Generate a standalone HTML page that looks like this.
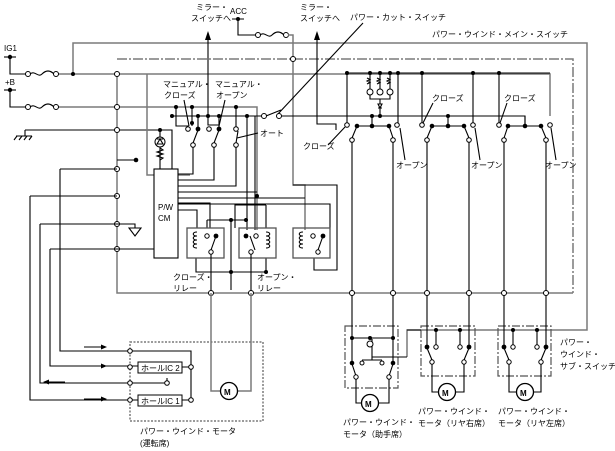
<!DOCTYPE html>
<html><head><meta charset="utf-8"><style>
html,body{margin:0;padding:0;background:#fff;width:615px;height:451px;overflow:hidden}
svg{display:block}
text{font-family:"Liberation Sans","Noto Sans CJK JP",sans-serif;font-size:8px;fill:#000}
.g{stroke:#7a7a7a;stroke-width:1.5;fill:none}
.k{stroke:#000;stroke-width:1.1;fill:none}
.o{fill:#fff;stroke:#000;stroke-width:1}
.d{fill:#000}
.dd{stroke:#7a7a7a;stroke-width:1.5;fill:none;stroke-dasharray:10 2 2 2}
.bx{fill:none;stroke:#7a7a7a;stroke-width:1.5;stroke-dasharray:2 1.5}
.bd{fill:none;stroke:#555;stroke-width:1.2;stroke-dasharray:8 2 2 2}
</style></head><body>
<svg width="615" height="451" viewBox="0 0 615 451" xmlns="http://www.w3.org/2000/svg">
<path class="g" d="M73 74V43H587V330H407V357"/>
<path class="g" d="M56 74H550V116"/>
<path class="dd" d="M117 59H573V293"/>
<path class="g" d="M117 74V293H573"/>
<path class="g" d="M56 107H257V230"/>
<path class="k" d="M10 57V74H28"/>
<path class="k" d="M10 90V107H28"/>
<circle class="o" cx="28" cy="74" r="2.5"/><path class="k" d="M30 74c5 -4 8 4 12 0s8 -4 12 0"/><circle class="o" cx="56" cy="74" r="2.5"/>
<circle class="o" cx="28" cy="107" r="2.5"/><path class="k" d="M30 107c5 -4 8 4 12 0s8 -4 12 0"/><circle class="o" cx="56" cy="107" r="2.5"/>
<circle class="d" cx="10" cy="57" r="2.2"/><path class="k" d="M4 57H16"/>
<circle class="d" cx="10" cy="90" r="2.2"/><path class="k" d="M4 90H16"/>
<text x="4" y="51">IG1</text><text x="5" y="85">+B</text>
<circle class="d" cx="73" cy="74" r="2"/>
<path class="k" d="M25 130H172V169"/><path class="k" d="M16 136H32M17 136l-3 4M22 136l-3 4M27 136l-3 4M32 136l-3 4"/>
<path class="k" d="M25 130V136"/>
<text x="230" y="14">ACC</text><circle class="d" cx="238" cy="19" r="2"/><path class="k" d="M232 19H244M238 19V35H258"/>
<circle class="o" cx="258" cy="35" r="2.5"/><path class="k" d="M260 35c5 -4 8 4 12 0s8 -4 12 0"/><circle class="o" cx="286" cy="35" r="2.5"/>
<path class="g" d="M288 35H293V185H305V230"/>
<circle class="o" cx="293" cy="59" r="2.5"/>
<path class="k" d="M208 33V116"/><path class="d" d="M205 40L208 31L211 40Z"/>
<text x="196" y="10">ミラー・</text><text x="191" y="21">スイッチへ</text>
<path class="k" d="M317 33V124H336V130"/><path class="d" d="M314 40L317 31L320 40Z"/>
<text x="300" y="10">ミラー・</text><text x="300" y="21">スイッチへ</text>
<text x="350" y="20">パワー・カット・スイッチ</text>
<path class="k" d="M363 23L277 115"/>
<text x="432" y="37">パワー・ウインド・メイン・スイッチ</text>
<path class="k" d="M172 116H264M279 116H525V126"/>
<circle class="o" cx="264" cy="116" r="2.5"/><circle class="o" cx="279" cy="116" r="2.5"/><path class="k" d="M266 116L281 110"/>
<path class="g" d="M147 74V175H190"/>
<path class="k" d="M176 107V126H188V129M192 107V126M208 116V125H219V129M198 116V129M219 116V129M236 107V129M247 116V230M255 116V230"/>
<circle class="d" cx="176" cy="107" r="2"/><circle class="d" cx="192" cy="107" r="2"/><circle class="d" cx="236" cy="107" r="2"/>
<circle class="d" cx="198" cy="116" r="2"/><circle class="d" cx="208" cy="116" r="2"/><circle class="d" cx="219" cy="116" r="2"/><circle class="d" cx="247" cy="116" r="2"/><circle class="d" cx="172" cy="116" r="2"/>
<circle class="d" cx="192" cy="123" r="2"/>
<circle class="o" cx="188" cy="129" r="2.3"/><circle class="d" cx="198" cy="129" r="2.4"/><circle class="o" cx="209" cy="129" r="2.3"/><circle class="d" cx="219" cy="129" r="2.4"/><circle class="o" cx="236" cy="129" r="2.3"/>
<path class="k" d="M193 143L198 130M214 143L219 130M236 143L238 131"/>
<circle class="o" cx="193" cy="145" r="2.3"/><circle class="o" cx="214" cy="145" r="2.3"/><circle class="o" cx="236" cy="145" r="2.3"/>
<path class="k" d="M193 147V174H178M214 147V180H178M236 147V186H178"/>
<text x="163" y="87">マニュアル・</text><text x="164" y="98">クローズ</text>
<text x="215" y="87">マニュアル・</text><text x="216" y="98">オープン</text>
<path class="k" d="M184 100L189 126M225 100L219 126M237 138L258 133"/>
<text x="260" y="136">オート</text>
<path class="k" d="M160 130V160M160 160V169"/><circle class="d" cx="160" cy="130" r="2"/>
<circle class="o" cx="160" cy="142" r="5"/><path class="k" d="M157 144L160 139L163 144ZM157 139H163"/>
<path class="k" d="M160 148l3 2l-6 2l6 2l-6 2l6 2l-3 2"/>
<g class="o"><circle cx="117" cy="74" r="2.5"/><circle cx="117" cy="107" r="2.5"/><circle cx="117" cy="130" r="2.5"/><circle cx="117" cy="169" r="2.5"/><circle cx="117" cy="196" r="2.5"/><circle cx="117" cy="224" r="2.5"/><circle cx="117" cy="249" r="2.5"/></g>
<path class="k" d="M117 160H135"/><circle class="d" cx="136" cy="160" r="2.3"/>
<rect x="154" y="169" width="24" height="89" fill="#fff" stroke="#000" stroke-width="1.1"/>
<text x="158" y="210" font-size="9">P/W</text><text x="158" y="221" font-size="9">CM</text>
<path class="k" d="M60 169H117M30 196H117M40 224H117M50 249H154M178 192H257M178 198H305M178 204H330V230"/>
<path class="k" d="M117 224H135V228M129 228H141L135 236Z"/>
<path class="k" d="M178 210H197V228M178 203H210V228"/>
<path class="k" d="M207 220V228M207 220H246M231 220V290M266 205H235V228M266 205V228"/>
<circle class="d" cx="231" cy="220" r="2"/><circle class="d" cx="246" cy="220" r="2"/><circle class="d" cx="257" cy="196" r="2"/>
<path class="k" d="M196 258V272H231M266 258V272H231"/><circle class="d" cx="231" cy="272" r="2"/><circle class="d" cx="266" cy="272" r="2"/>
<path class="k" d="M314 258V270H337V185H293"/>
<g fill="none" stroke="#555" stroke-width="1.3">
<rect x="187" y="228" width="37" height="30"/><rect x="239" y="228" width="37" height="30"/><rect x="293" y="228" width="37" height="30"/></g>
<g class="k">
<path d="M197 232c-5 0-5 4 0 4c-5 0-5 4 0 4c-5 0-5 4 0 4c-5 0-5 4 0 4"/>
<path d="M266 232c5 0 5 4 0 4c5 0 5 4 0 4c5 0 5 4 0 4c5 0 5 4 0 4"/>
<path d="M303 232c-5 0-5 4 0 4c-5 0-5 4 0 4c-5 0-5 4 0 4c-5 0-5 4 0 4"/>
<path d="M211 250L216 236M250 236L255 250M318 250L323 236"/>
<path d="M211 252V293M251 252V293"/>
</g>
<circle class="o" cx="207" cy="236" r="2.2"/><circle class="d" cx="216" cy="236" r="2.4"/><circle class="o" cx="211" cy="252" r="2.2"/>
<circle class="d" cx="246" cy="236" r="2.4"/><circle class="o" cx="256" cy="236" r="2.2"/><circle class="o" cx="251" cy="252" r="2.2"/>
<circle class="o" cx="313" cy="236" r="2.2"/><circle class="d" cx="323" cy="236" r="2.4"/><circle class="o" cx="318" cy="252" r="2.2"/>
<text x="173" y="280">クローズ・</text><text x="173" y="291">リレー</text>
<text x="257" y="280">オープン・</text><text x="257" y="291">リレー</text>
<path class="k" d="M347 73H550M347 73V123M370 73V90M380 73V90M390 73V90M398 73V123M422 73V123M473 73V123M499 73V123"/>
<g class="d"><circle cx="347" cy="73" r="2"/><circle cx="370" cy="73" r="2"/><circle cx="380" cy="73" r="2"/><circle cx="390" cy="73" r="2"/><circle cx="398" cy="73" r="2"/><circle cx="422" cy="73" r="2"/><circle cx="473" cy="73" r="2"/><circle cx="499" cy="73" r="2"/></g>
<g class="k"><path d="M367 78l3 1.5-3 1.5 3 1.5-3 1.5M377 78l3 1.5-3 1.5 3 1.5-3 1.5M387 78l3 1.5-3 1.5 3 1.5-3 1.5"/>
<path d="M370 94V99H390V94M380 99V104M380 108V116"/><path d="M378 104h4l-2 4zM378 108h4"/></g>
<circle class="o" cx="370" cy="92" r="3"/><circle class="o" cx="380" cy="92" r="3"/><circle class="o" cx="390" cy="92" r="3"/>
<path class="k" d="M357 126H389M372 116V126M432 126H464M448 116V126M508 126H541M525 116V126"/>
<g class="d"><circle cx="372" cy="116" r="2"/><circle cx="380" cy="116" r="2"/><circle cx="448" cy="116" r="2"/><circle cx="357" cy="126" r="2.3"/><circle cx="372" cy="126" r="2.3"/><circle cx="389" cy="126" r="2.3"/><circle cx="432" cy="126" r="2.3"/><circle cx="448" cy="126" r="2.3"/><circle cx="464" cy="126" r="2.3"/><circle cx="508" cy="126" r="2.3"/><circle cx="525" cy="126" r="2.3"/><circle cx="541" cy="126" r="2.3"/></g>
<path class="k" d="M352 138L357 126M393 138L389 126M427 138L432 126M469 138L464 126M504 138L508 126M546 138L541 126"/>
<g class="o"><circle cx="347" cy="125" r="2.3"/><circle cx="397" cy="125" r="2.3"/><circle cx="422" cy="125" r="2.3"/><circle cx="473" cy="125" r="2.3"/><circle cx="499" cy="125" r="2.3"/><circle cx="550" cy="125" r="2.3"/>
<circle cx="352" cy="140" r="2.3"/><circle cx="393" cy="140" r="2.3"/><circle cx="427" cy="140" r="2.3"/><circle cx="469" cy="140" r="2.3"/><circle cx="504" cy="140" r="2.3"/><circle cx="546" cy="140" r="2.3"/></g>
<path class="k" d="M352 142V293M393 142V293M427 142V293M469 142V293M504 142V293M546 142V293"/>
<text x="432" y="101">クローズ</text><text x="504" y="101">クローズ</text><text x="303" y="149">クローズ</text>
<path class="k" d="M433 103L423 123M507 103L500 123M328 145L345 127M400 128L405 160M475 128L480 160M551 128L556 160"/>
<text x="396" y="168">オープン</text><text x="471" y="168">オープン</text><text x="545" y="168">オープン</text>
<g class="o"><circle cx="211" cy="293" r="2.5"/><circle cx="251" cy="293" r="2.5"/><circle cx="352" cy="293" r="2.5"/><circle cx="393" cy="293" r="2.5"/><circle cx="427" cy="293" r="2.5"/><circle cx="469" cy="293" r="2.5"/><circle cx="504" cy="293" r="2.5"/><circle cx="546" cy="293" r="2.5"/></g>
<rect class="bx" x="130" y="342" width="133" height="79"/>
<path class="k" d="M60 169V351H130M50 249V366H138M40 224V383H130M30 196V400H138"/>
<path class="k" d="M84 347H105M84 366H105M84 399H105M48 382H65"/>
<path class="d" d="M107 347l-6-2.5v5zM107 366l-6-2.5v5zM107 399l-6-2.5v5zM43 382l6-2.5v5z"/>
<path class="k" d="M130 351H191V400M130 383H167V378M182 367H191M182 400H191"/>
<rect x="138" y="362" width="44" height="11" fill="#fff" stroke="#000"/><rect x="138" y="395" width="44" height="11" fill="#fff" stroke="#000"/>
<text x="141" y="371">ホールIC 2</text><text x="141" y="404">ホールIC 1</text>
<g class="o"><circle cx="130" cy="351" r="2.3"/><circle cx="130" cy="367" r="2.3"/><circle cx="130" cy="383" r="2.3"/><circle cx="130" cy="400" r="2.3"/><circle cx="167" cy="383" r="2.3"/><circle cx="191" cy="367" r="2.3"/><circle cx="191" cy="400" r="2.3"/></g>
<path class="g" d="M211 293V391H220M251 293V391H238"/>
<circle cx="229" cy="391" r="8.5" fill="#fff" stroke="#000" stroke-width="1.3"/><text x="224" y="395" font-size="11" font-weight="bold">M</text>
<text x="140" y="434">パワー・ウインド・モータ</text><text x="140" y="446">(運転席)</text>
<rect class="bd" x="345" y="326" width="53" height="62"/>
<path class="k" d="M352 295V338M393 295V338M352 338H393M407 357H372V339M372 351V360M362 360H382M352 338V362M393 338V362"/>
<g class="d"><circle cx="352" cy="338" r="2"/><circle cx="393" cy="338" r="2"/><circle cx="370" cy="338" r="2"/><circle cx="352" cy="363" r="2.3"/><circle cx="393" cy="363" r="2.3"/></g>
<circle class="o" cx="370" cy="344" r="3"/><circle class="o" cx="362" cy="363" r="2"/><circle class="o" cx="382" cy="363" r="2"/>
<path class="k" d="M356 376L352 364M389 376L393 364M356 378V403H362M389 378V403H379"/>
<circle class="o" cx="356" cy="377" r="2.2"/><circle class="o" cx="389" cy="377" r="2.2"/>
<circle cx="370" cy="403" r="8.5" fill="#fff" stroke="#000" stroke-width="1.3"/><text x="365" y="407" font-size="11" font-weight="bold">M</text>
<text x="343" y="425">パワー・ウインド・</text><text x="343" y="437">モータ（助手席）</text>
<rect class="bd" x="421" y="326" width="54" height="50"/>
<path class="k" d="M407 330H421M427 295V346M469 295V346M436 330V346M460 330V346"/>
<g class="d"><circle cx="436" cy="330" r="2"/><circle cx="460" cy="330" r="2"/><circle cx="427" cy="347" r="2.4"/><circle cx="469" cy="347" r="2.4"/></g>
<circle class="o" cx="436" cy="347" r="2.2"/><circle class="o" cx="460" cy="347" r="2.2"/>
<path class="k" d="M432 360L427 348M464 360L469 348M432 362V392H438M464 362V392H456"/>
<circle class="o" cx="432" cy="362" r="2.2"/><circle class="o" cx="464" cy="362" r="2.2"/>
<circle cx="447" cy="392" r="8.5" fill="#fff" stroke="#000" stroke-width="1.3"/><text x="442" y="396" font-size="11" font-weight="bold">M</text>
<text x="418" y="414">パワー・ウインド・</text><text x="418" y="426">モータ（リヤ右席）</text>
<rect class="bd" x="498" y="326" width="53" height="50"/>
<path class="k" d="M504 295V346M546 295V346M513 330V346M537 330V346"/>
<g class="d"><circle cx="513" cy="330" r="2"/><circle cx="537" cy="330" r="2"/><circle cx="504" cy="347" r="2.4"/><circle cx="546" cy="347" r="2.4"/></g>
<circle class="o" cx="513" cy="347" r="2.2"/><circle class="o" cx="537" cy="347" r="2.2"/>
<path class="k" d="M509 360L504 348M541 360L546 348M509 362V392H516M541 362V392H534"/>
<circle class="o" cx="509" cy="362" r="2.2"/><circle class="o" cx="541" cy="362" r="2.2"/>
<circle cx="525" cy="392" r="8.5" fill="#fff" stroke="#000" stroke-width="1.3"/><text x="520" y="396" font-size="11" font-weight="bold">M</text>
<text x="498" y="414">パワー・ウインド・</text><text x="498" y="426">モータ（リヤ左席）</text>
<text x="560" y="345">パワー・</text><text x="560" y="357">ウインド・</text><text x="560" y="369">サブ・スイッチ</text>
</svg>
</body></html>
